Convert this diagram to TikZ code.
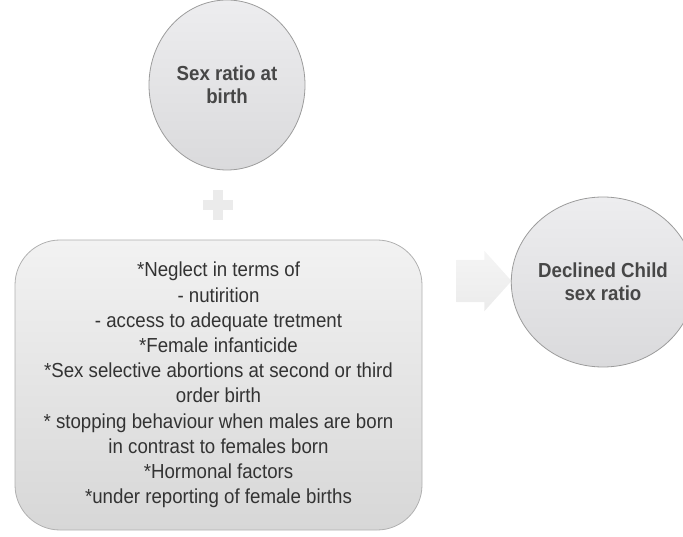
\documentclass[tikz,border=0pt]{standalone}
\usepackage{fontspec}
\setmainfont{Liberation Sans}[FakeStretch=0.92]
\usetikzlibrary{shapes.geometric,shapes.arrows}

\definecolor{bubbletop}{HTML}{EDEDEF}
\definecolor{bubblebot}{HTML}{DADADC}
\definecolor{boxtop}{HTML}{F2F2F2}
\definecolor{boxbot}{HTML}{D7D7D7}
\definecolor{edgegray}{HTML}{9C9C9C}
\definecolor{textgray}{HTML}{333333}
\definecolor{signgray}{HTML}{EBEBEB}

\begin{document}
\begin{tikzpicture}[x=1pt, y=-1pt,
    bubble/.style={ellipse, draw=edgegray, line width=0.8pt,
        top color=bubbletop, bottom color=bubblebot,
        minimum width=156pt, minimum height=170pt, inner sep=0pt,
        align=center, text=textgray!90,
        font=\fontsize{20.3}{23}\selectfont\bfseries},
    factorbox/.style={rectangle, rounded corners=45pt, draw=edgegray!80,
        line width=0.8pt, top color=boxtop, bottom color=boxbot,
        minimum width=407pt, minimum height=290pt, inner sep=0pt,
        align=center, text=textgray,
        font=\fontsize{20.3}{25.2}\selectfont},
    blockarrow/.style={single arrow, draw=none,
        top color=signgray!50, bottom color=signgray,
        single arrow head extend=9pt, single arrow tip angle=96,
        inner xsep=0pt, inner ysep=21pt, minimum height=55pt}]
    \useasboundingbox (0,0) rectangle (683,537);

    \node[bubble] (srb) at (227,85) {Sex ratio at\\birth};

    % the plus between the two causes
    \coordinate (plus) at (218,205);
    \fill[signgray] ([xshift=-15pt, yshift=5pt]plus) rectangle ([xshift=15pt, yshift=-5pt]plus);
    \fill[signgray] ([xshift=-5pt, yshift=15pt]plus) rectangle ([xshift=5pt, yshift=-15pt]plus);

    \node[factorbox] (causes) at (218.5,385) {%
        *Neglect in terms of\\
        - nutirition\\
        - access to adequate tretment\\
        *Female infanticide\\
        *Sex selective abortions at second or third\\
        order birth\\
        * stopping behaviour when males are born\\
        in contrast to females born\\
        *Hormonal factors\\
        *under reporting of female births};

    \node[blockarrow] (arr) at (474.5,281) {};

    \node[bubble] (dcsr) at (603,282) {Declined Child\\sex ratio};
\end{tikzpicture}
\end{document}
